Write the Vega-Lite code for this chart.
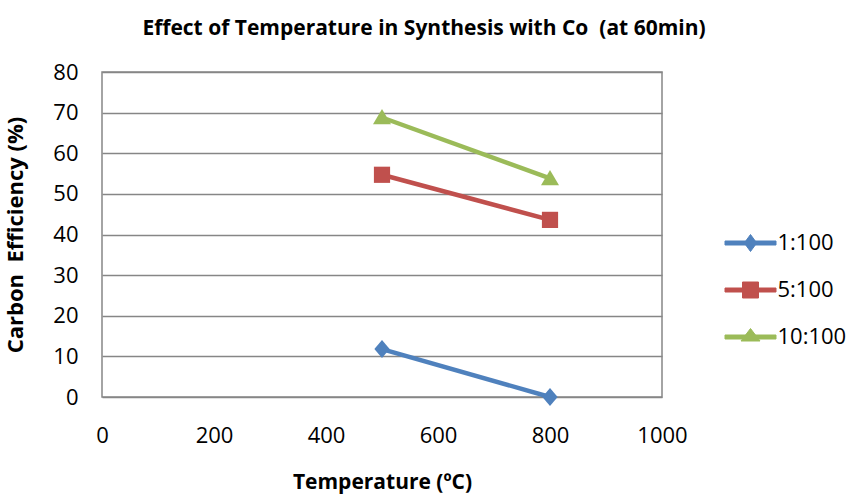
{
  "$schema": "https://vega.github.io/schema/vega-lite/v6.json",
  "width": 560,
  "height": 325,
  "autosize": {"type": "none"},
  "padding": {"left": 102, "top": 72, "right": 189, "bottom": 100},
  "background": "white",
  "config": {
    "view": {"stroke": "#868686", "strokeWidth": 1.5},
    "font": "Open Sans",
    "legend": {
      "title": null,
      "orient": "none",
      "legendX": 637.5,
      "legendY": 160,
      "padding": 0,
      "symbolSize": 400,
      "symbolOpacity": 1,
      "rowPadding": 25,
      "labelOffset": 16,
      "labelFont": "Open Sans",
      "labelFontSize": 22,
      "labelColor": "#000",
      "symbolStrokeWidth": 1
    }
  },
  "title": {
    "text": "Effect of Temperature in Synthesis with Co\u00a0\u00a0(at 60min)",
    "font": "Open Sans",
    "fontSize": 21,
    "fontWeight": "bold",
    "color": "#000000",
    "anchor": "middle",
    "dx": 42,
    "offset": 22
  },
  "data": {
    "values": [
      {"series": "1:100", "temp": 500, "eff": 11.8},
      {"series": "1:100", "temp": 800, "eff": 0},
      {"series": "5:100", "temp": 500, "eff": 54.7},
      {"series": "5:100", "temp": 800, "eff": 43.6},
      {"series": "10:100", "temp": 500, "eff": 68.8},
      {"series": "10:100", "temp": 800, "eff": 53.8}
    ]
  },
  "encoding": {
    "x": {
      "field": "temp", "type": "quantitative",
      "scale": {"domain": [0, 1000], "nice": false},
      "axis": {
        "values": [0, 200, 400, 600, 800, 1000],
        "format": "d",
        "labelFlush": false,
        "title": "Temperature (ºC)",
        "titleFont": "Open Sans", "titleFontSize": 21, "titleFontWeight": "bold", "titleColor": "#000",
        "titlePadding": 25,
        "labelFont": "Open Sans", "labelFontSize": 22, "labelColor": "#000",
        "labelPadding": 28,
        "grid": false, "ticks": false, "domain": false
      }
    },
    "y": {
      "field": "eff", "type": "quantitative",
      "scale": {"domain": [0, 80], "nice": false},
      "axis": {
        "values": [0, 10, 20, 30, 40, 50, 60, 70, 80],
        "labelFlush": false,
        "title": "Carbon\u00a0\u00a0Efficiency (%)",
        "titleFont": "Open Sans", "titleFontSize": 22, "titleFontWeight": "bold", "titleColor": "#000",
        "titlePadding": 25,
        "labelFont": "Open Sans", "labelFontSize": 22, "labelColor": "#000",
        "labelPadding": 24,
        "grid": true, "gridColor": "#868686", "gridWidth": 1.5,
        "ticks": false, "domain": false
      }
    },
    "color": {
      "field": "series", "type": "nominal",
      "scale": {"domain": ["1:100", "5:100", "10:100"], "range": ["#4F81BD", "#C0504D", "#9BBB59"]}
    }
  },
  "layer": [
    {
      "mark": {"type": "line", "strokeWidth": 4.5}
    },
    {
      "transform": [{"filter": "datum.series === '1:100'"}],
      "mark": {"type": "point", "filled": true, "opacity": 1, "size": 324, "shape": "M0,-1L0.85,0L0,1L-0.85,0Z"}
    },
    {
      "transform": [{"filter": "datum.series === '5:100'"}],
      "mark": {"type": "point", "filled": true, "opacity": 1, "size": 324, "shape": "M-0.9,-0.9H0.9V0.9H-0.9Z"}
    },
    {
      "transform": [{"filter": "datum.series === '10:100'"}],
      "mark": {"type": "point", "filled": true, "opacity": 1, "size": 324, "shape": "M0,-0.95L1,0.75H-1Z"}
    },
    {
      "mark": {"type": "point", "filled": true, "opacity": 0, "size": 4},
      "encoding": {
        "shape": {
          "field": "series", "type": "nominal",
          "scale": {
            "domain": ["1:100", "5:100", "10:100"],
            "range": [
              "M-2.55,-0.2H2.55V0.2H-2.55ZM0,-0.85L0.62,0L0,0.85L-0.62,0Z",
              "M-2.55,-0.2H2.55V0.2H-2.55ZM-0.8,-0.8H0.8V0.8H-0.8Z",
              "M-2.55,-0.2H2.55V0.2H-2.55ZM0,-0.85L0.95,0.4H-0.95Z"
            ]
          }
        }
      }
    }
  ]
}
